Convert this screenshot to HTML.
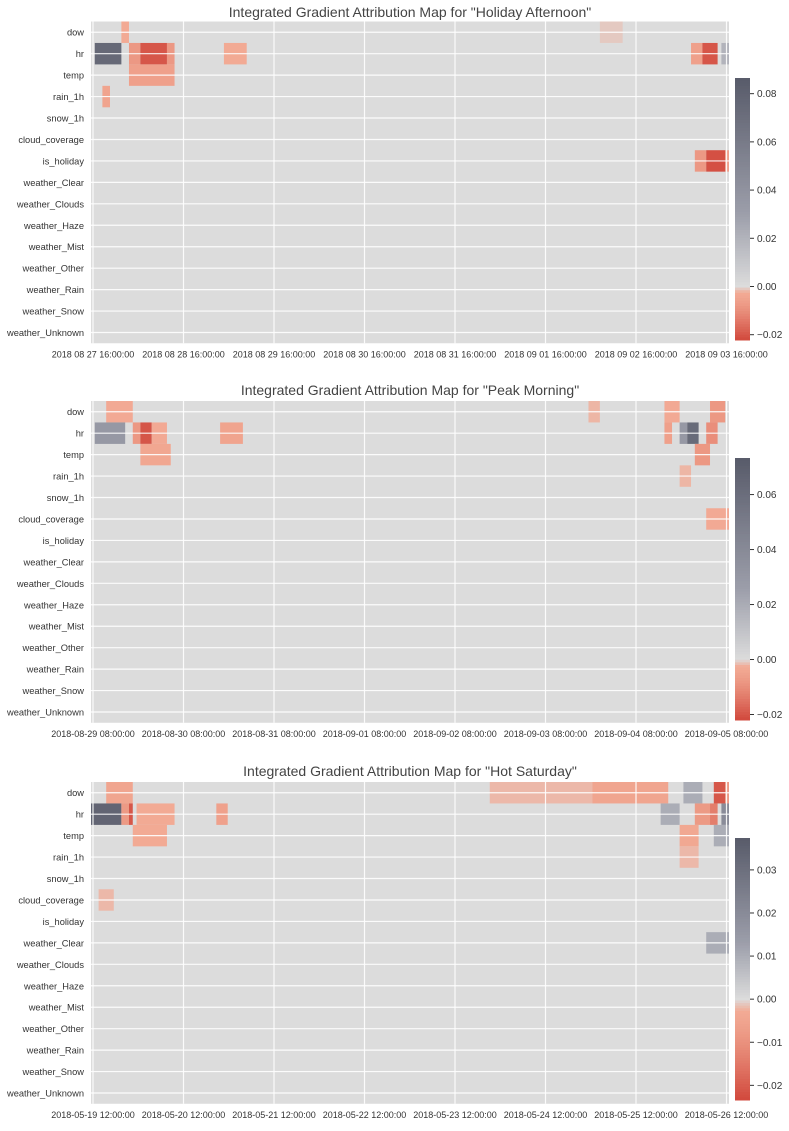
<!DOCTYPE html>
<html><head><meta charset="utf-8"><style>
html,body{margin:0;padding:0;background:#fff;}
svg text{font-family:"Liberation Sans",sans-serif;}
</style></head><body>
<svg id="chart" width="789" height="1126" viewBox="0 0 789 1126" xmlns="http://www.w3.org/2000/svg"></svg>
<script>
const features = ["dow","hr","temp","rain_1h","snow_1h","cloud_coverage","is_holiday","weather_Clear","weather_Clouds","weather_Haze","weather_Mist","weather_Other","weather_Rain","weather_Snow","weather_Unknown"];
const titles = ['Integrated Gradient Attribution Map for "Holiday Afternoon"','Integrated Gradient Attribution Map for "Peak Morning"','Integrated Gradient Attribution Map for "Hot Saturday"'];
const xTicks1 = ["2018 08 27 16:00:00","2018 08 28 16:00:00","2018 08 29 16:00:00","2018 08 30 16:00:00","2018 08 31 16:00:00","2018 09 01 16:00:00","2018 09 02 16:00:00","2018 09 03 16:00:00"];
const xTicks2 = ["2018-08-29 08:00:00","2018-08-30 08:00:00","2018-08-31 08:00:00","2018-09-01 08:00:00","2018-09-02 08:00:00","2018-09-03 08:00:00","2018-09-04 08:00:00","2018-09-05 08:00:00"];
const xTicks3 = ["2018-05-19 12:00:00","2018-05-20 12:00:00","2018-05-21 12:00:00","2018-05-22 12:00:00","2018-05-23 12:00:00","2018-05-24 12:00:00","2018-05-25 12:00:00","2018-05-26 12:00:00"];
const cbTicks1 = [0.08,0.06,0.04,0.02,0.00,-0.02];
const cbTicks2 = [0.06,0.04,0.02,0.00,-0.02];
const cbTicks3 = [0.03,0.02,0.01,0.00,-0.01,-0.02];
const vRange1 = [-0.0222,0.0865];
const vRange2 = [-0.022,0.0733];
const vRange3 = [-0.0234,0.0374];
// blocks: [featureIndex, startHour, endHour(exclusive), value]
const cells1 = [[0,8,10,-0.003],[1,1,8,0.075],[1,10,13,-0.008],[1,13,20,-0.02],[1,20,22,-0.008],[2,10,22,-0.006],[3,3,5,-0.005],[1,35,41,-0.003],[1,158,161,-0.006],[1,161,165,-0.02],[1,166,168,0.02],[6,159,162,-0.008],[6,162,167,-0.021],[6,167,168,-0.006],[0,134,140,-0.001]];
const cells2 = [[0,4,11,-0.003],[1,1,9,0.03],[1,11,13,-0.008],[1,13,16,-0.02],[1,16,20,-0.003],[1,34,40,-0.005],[2,13,21,-0.004],[0,151,155,-0.003],[0,163,167,-0.008],[1,151,153,-0.006],[1,155,157,0.03],[1,157,160,0.062],[1,162,165,-0.01],[2,159,163,-0.008],[3,155,158,-0.002],[5,162,168,-0.003],[0,131,134,-0.002]];
const cells3 = [[0,4,11,-0.005],[0,105,132,-0.002],[0,132,152,-0.005],[0,156,161,0.01],[0,164,167,-0.021],[0,167,168,-0.008],[1,0,8,0.034],[1,8,10,-0.008],[1,10,11,-0.021],[1,12,22,-0.003],[1,33,36,-0.006],[1,150,155,0.01],[1,159,163,-0.008],[1,163,165,-0.014],[1,166,168,0.02],[2,11,20,-0.003],[2,155,160,-0.004],[2,164,168,0.01],[3,155,160,-0.002],[7,162,168,0.01],[5,2,6,-0.002]];

const svg = document.getElementById('chart');
const NS = "http://www.w3.org/2000/svg";
function mk(tag, attrs, parent){const e=document.createElementNS(NS,tag);for(const k in attrs)e.setAttribute(k,attrs[k]);(parent||svg).appendChild(e);return e;}
function lerp(a,b,t){return a.map((v,i)=>Math.round(v+(b[i]-v)*t));}
function color(v, vr){
  const g=[220,220,220], dk=[88,91,106], mid=[156,158,170], sal=[242,170,148], red=[209,72,60];
  if(v>=0){const t=Math.min(1,v/vr[1]); return t<0.35?lerp(g,mid,t/0.35):lerp(mid,dk,(t-0.35)/0.65);}
  const t=Math.min(1,v/vr[0]); return t<0.12?lerp(g,sal,t/0.12):lerp(sal,red,Math.pow((t-0.12)/0.88,1.3));
}
function rgb(c){return `rgb(${c[0]},${c[1]},${c[2]})`;}

const panels = [
  {top:21.5, cbTop:78, cbBot:340, xt:xTicks1, cb:cbTicks1, vr:vRange1, cells:cells1, title:titles[0], ty:17},
  {top:401, cbTop:458, cbBot:720, xt:xTicks2, cb:cbTicks2, vr:vRange2, cells:cells2, title:titles[1], ty:395},
  {top:782, cbTop:838, cbBot:1100, xt:xTicks3, cb:cbTicks3, vr:vRange3, cells:cells3, title:titles[2], ty:776}
];
const PX0=91, PX1=729, NH=168, RH=21.45;
panels.forEach((p,pi)=>{
  const g=mk('g',{});
  
  
  const xs=h=>PX0+(PX1-PX0)*h/NH;
  const ys=i=>p.top+i*RH;
  const bot=ys(features.length);
  const t=mk('text',{x:410,y:p.ty,'text-anchor':'middle','font-size':14,fill:'#444'},g);t.textContent=p.title;
  
  
  const bg=mk('rect',{x:PX0,y:p.top,width:PX1-PX0,height:bot-p.top,fill:'#dcdcdc'},g);
  
  
  p.cells.forEach(c=>{
    const r=mk('rect',{x:xs(c[1]),y:ys(c[0]),width:xs(c[2])-xs(c[1]),height:RH,fill:rgb(color(c[3],p.vr))},g);
    
    
  });
  features.forEach((f,i)=>{
    mk('line',{x1:PX0,x2:PX1,y1:ys(i)+RH/2,y2:ys(i)+RH/2,stroke:'#fff','stroke-width':1.2,opacity:0.9},g);
    const l=mk('text',{x:84,y:ys(i)+RH/2+3.5,'text-anchor':'end','font-size':9.3,fill:'#333'},g);l.textContent=f;
    
    
  });
  p.xt.forEach((s,i)=>{
    const x=93+i*90.5;
    mk('line',{x1:x,x2:x,y1:p.top,y2:bot,stroke:'#fff','stroke-width':1.2,opacity:0.9},g);
    const l=mk('text',{x:x,y:bot+14,'text-anchor':'middle','font-size':9,fill:'#333'},g);l.textContent=s;
    
    
  });
  const z=p.cbTop+(p.cbBot-p.cbTop)*p.vr[1]/(p.vr[1]-p.vr[0]);
  const vy=v=>v>=0? z-(z-p.cbTop)*v/p.vr[1] : z+(p.cbBot-z)*v/p.vr[0];
  const n=100;
  for(let k=0;k<n;k++){
    const y0=p.cbTop+(p.cbBot-p.cbTop)*k/n, y1=p.cbTop+(p.cbBot-p.cbTop)*(k+1)/n;
    const ym=(y0+y1)/2;
    const v= ym<=z ? p.vr[1]*(z-ym)/(z-p.cbTop) : p.vr[0]*(ym-z)/(p.cbBot-z);
    mk('rect',{x:735,y:y0,width:15,height:y1-y0+0.5,fill:rgb(color(v,p.vr))},g);
  }
  const cbf=mk('rect',{x:735,y:p.cbTop,width:15,height:p.cbBot-p.cbTop,fill:'none'},g);
  
  
  p.cb.forEach(v=>{
    const y=vy(v);
    mk('line',{x1:750,x2:754,y1:y,y2:y,stroke:'#333','stroke-width':1},g);
    const l=mk('text',{x:757,y:y+3.5,'font-size':10,fill:'#333'},g);l.textContent=(v<0?'\u22120':'0')+'.'+Math.abs(v).toFixed(2).split('.')[1];
    
    
  });
});
</script>
</body></html>
